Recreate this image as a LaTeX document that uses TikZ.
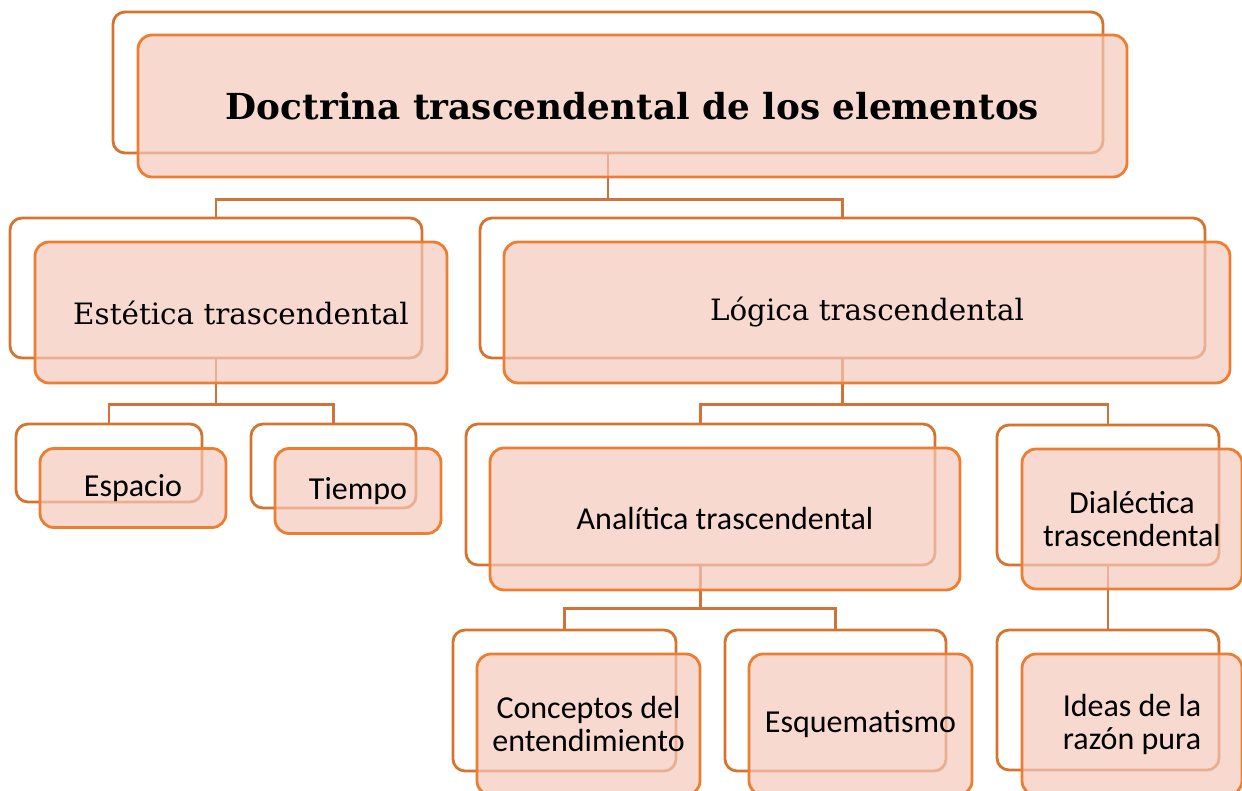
\documentclass[tikz,border=0pt]{standalone}
\usepackage{fontspec}
\setmainfont{Carlito}
\newfontfamily\slabfont{DejaVu Serif}
\usetikzlibrary{positioning}
\definecolor{backline}{HTML}{D5742F}
\definecolor{frontline}{HTML}{ED7D31}
\definecolor{frontfill}{HTML}{F4C9BC}
\definecolor{connline}{HTML}{D0733A}

\begin{document}
\begin{tikzpicture}[x=0.5pt,y=-0.5pt,
every node/.style={inner sep=0pt,align=center,font=\fontsize{16}{16.5}\selectfont},
size/.style 2 args={minimum width=#1*0.5pt,minimum height=#2*0.5pt},
backbox/.style={draw=backline,line width=1.4pt,fill=white,rounded corners=6pt},
frontbox/.style={draw=frontline,line width=1.4pt,fill=frontfill,fill opacity=0.7,draw opacity=1,text opacity=1,rounded corners=7pt},
conn/.style={draw=connline,line width=1.4pt}]

\useasboundingbox (0,0) rectangle (1242,791);
\clip (0,0) rectangle (1242,791);

% back boxes
\node[backbox,size={990}{141}] (doctrinab) at (608,82.5) {};
\node[backbox,size={412}{140}] (esteticab) at (216,288) {};
\node[backbox,size={725}{140}] (logicab) at (842.5,288) {};
\node[backbox,size={186}{78}] (espaciob) at (109,463) {};
\node[backbox,size={165}{84}] (tiempob) at (333.5,466) {};
\node[backbox,size={469}{141}] (analiticab) at (700.5,494.5) {};
\node[backbox,size={222}{140}] (dialecticab) at (1108,495) {};
\node[backbox,size={223}{141}] (conceptosb) at (564.5,700.5) {};
\node[backbox,size={221}{141}] (esquemab) at (835.5,700.5) {};
\node[backbox,size={222}{140}] (ideasb) at (1108,700) {};

% connectors
\draw[conn] (doctrinab.south) -- ++(0,45) -| (esteticab.north);
\draw[conn] (doctrinab.south) -- ++(0,45) -| (logicab.north);
\draw[conn] (esteticab.south) -- ++(0,45) -| (espaciob.north);
\draw[conn] (esteticab.south) -- ++(0,45) -| (tiempob.north);
\draw[conn] (logicab.south) -- ++(0,45) -| (analiticab.north);
\draw[conn] (logicab.south) -- ++(0,45) -| (dialecticab.north);
\draw[conn] (analiticab.south) -- ++(0,42) -| (conceptosb.north);
\draw[conn] (analiticab.south) -- ++(0,42) -| (esquemab.north);
\draw[conn] (dialecticab.south) -- (ideasb.north);

% front boxes
\node[frontbox,size={989}{142},font=\slabfont\bfseries\fontsize{17.9}{20}\selectfont] (doctrina) at (632.5,106) {Doctrina trascendental de los elementos};
\node[frontbox,size={412}{141},font=\slabfont\fontsize{14.7}{18}\selectfont] (estetica) at (241,312.5) {Estética trascendental};
\node[frontbox,size={726}{141},font=\slabfont\fontsize{14.7}{18}\selectfont] (logica) at (867,312.5) {Lógica trascendental};
\node[frontbox,size={186}{79}] (espacio) at (133,488) {Espacio};
\node[frontbox,size={166}{85}] (tiempo) at (358,491) {Tiempo};
\node[frontbox,size={470}{142}] (analitica) at (725,519) {Analítica trascendental};
\node[frontbox,size={220}{140}] (dialectica) at (1132,519) {Dialéctica\\trascendental};
\node[frontbox,size={223}{141}] (conceptos) at (588.5,724.5) {Conceptos del\\entendimiento};
\node[frontbox,size={223}{141}] (esquema) at (860.5,724.5) {Esquematismo};
\node[frontbox,size={220}{141}] (ideas) at (1132,724.5) {Ideas de la\\razón pura};

\end{tikzpicture}
\end{document}
